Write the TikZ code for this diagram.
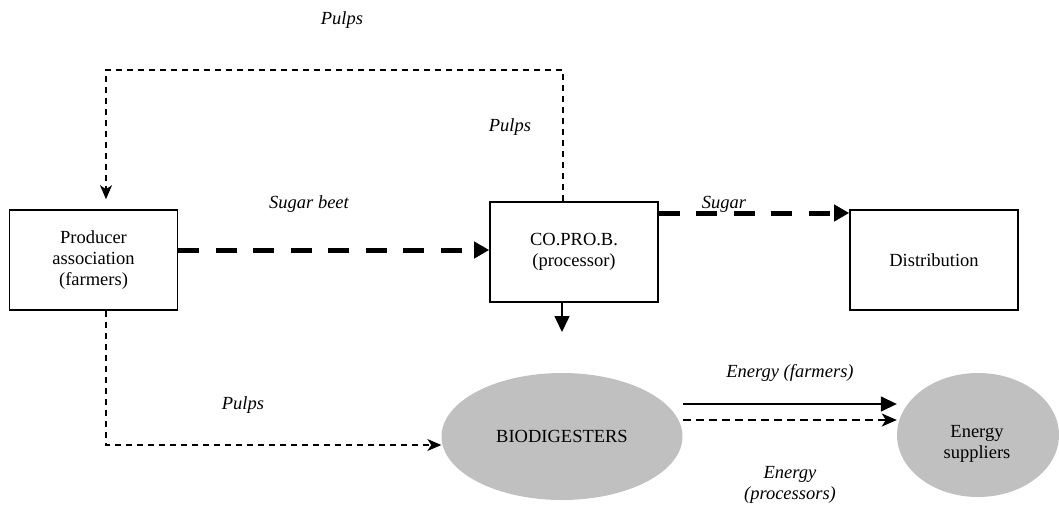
\documentclass[tikz,border=0pt]{standalone}
\usepackage{fontspec}
\setmainfont{Liberation Serif}
\usetikzlibrary{arrows.meta,shapes.geometric}
\newcommand\dfont{\fontsize{18.5}{21}\selectfont}
\definecolor{blobgray}{HTML}{C0C0C0}
\begin{document}
\begin{tikzpicture}[x=1pt,y=-1pt,
  box/.style={draw, line width=1.6pt, minimum width=168pt, minimum height=100pt, align=center, inner sep=0pt, font=\dfont},
  blob/.style={ellipse, fill=blobgray, inner sep=0pt, align=center, font=\dfont},
  lbl/.style={font=\dfont\itshape, inner sep=0pt, align=center},
  thickflow/.style={line width=5pt, dash pattern=on 21pt off 16.5pt, -{Triangle[length=15pt,width=16pt]}},
  thinflow/.style={line width=1.3pt, dash pattern=on 6.5pt off 4.5pt, -{Stealth[length=14pt,width=12pt,inset=4pt]}},
  solidflow/.style={line width=1.5pt, -{Triangle[length=16pt,width=15pt]}},
  energydash/.style={line width=1.8pt, dash pattern=on 8pt off 5pt, -{Stealth[length=15pt,width=13pt,inset=4pt]}}
]
\useasboundingbox (0,0) rectangle (1059,506);

% boxes
\node[box] (prod) at (93.5,260) {Producer\\association\\(farmers)};
\node[box] (copro) at (574,252) {CO.PRO.B.\\(processor)};
\node[box] (dist) at (934,260) {Distribution};

% ellipses
\node[blob, minimum width=241pt, minimum height=127pt] (bio) at (562,436.5) {BIODIGESTERS};
\node[blob, minimum width=162pt, minimum height=124pt] (sup) at (978,435) {};
\node[font=\dfont, align=center, inner sep=0pt] (suptxt) at (977,444) {Energy\\suppliers};

% coordinates
\coordinate (looptop) at (330,70);
\coordinate (cdown) at (562,332);

% flows
\draw[thickflow] ([yshift=10pt]prod.east) -- ([yshift=2pt]copro.west);
\draw[thickflow] ([yshift=39pt]copro.east) -- ([yshift=47pt]dist.west);
\draw[solidflow] ([xshift=-12pt]copro.south) -- (cdown);
\draw[thinflow] ([xshift=-11pt]copro.north) |- (looptop) -| ([xshift=12.5pt,yshift=10pt]prod.north);
\draw[thinflow] ([xshift=12.5pt]prod.south) |- ([yshift=-8.5pt]bio.west);
\draw[solidflow] ([yshift=32.5pt]bio.east) -- ([yshift=31pt]sup.west);
\draw[energydash] ([yshift=16.5pt]bio.east) -- ([yshift=15pt]sup.west);

% labels
\node[lbl] (lpulpstop) at (342,20) {Pulps};
\node[lbl] (lpulpsright) at (510,127) {Pulps};
\node[lbl] (lbeet) at (309,204) {Sugar beet};
\node[lbl] (lsugar) at (724,204) {Sugar};
\node[lbl] (lpulpslow) at (243,405) {Pulps};
\node[lbl] (lenfarm) at (790,373) {Energy (farmers)};
\node[lbl] (lenproc) at (790,485) {Energy\\(processors)};
\end{tikzpicture}
\end{document}
